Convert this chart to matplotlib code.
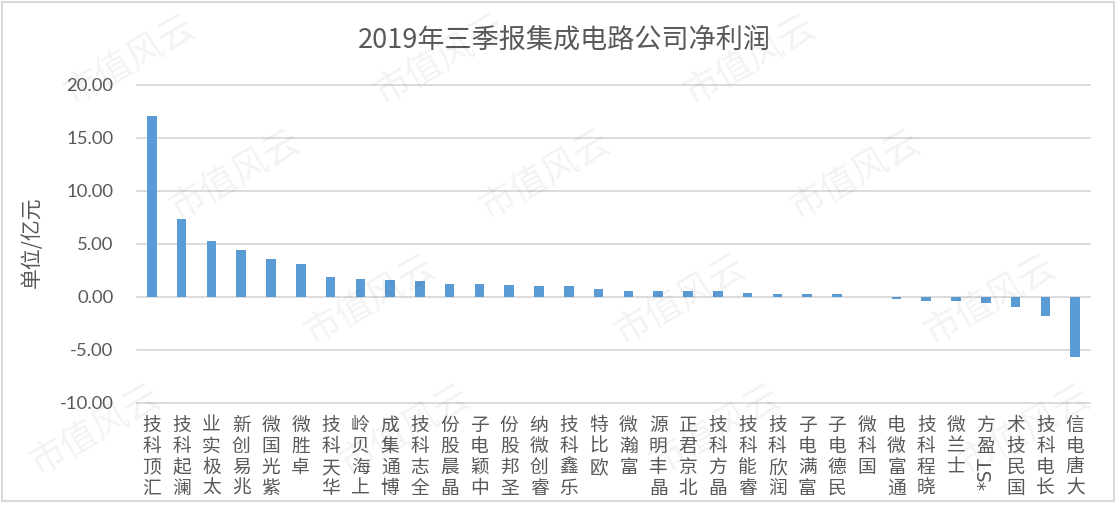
import re
import matplotlib
matplotlib.use("Agg")
import matplotlib.pyplot as plt
from matplotlib.ticker import FuncFormatter
from matplotlib.transforms import offset_copy
from matplotlib.patches import Rectangle

plt.rcParams['font.family'] = ['Noto Sans CJK SC', 'DejaVu Sans']

companies = ['汇顶科技', '澜起科技', '太极实业', '兆易创新', '紫光国微', '卓胜微', '华天科技',
             '上海贝岭', '博通集成', '全志科技', '晶晨股份', '中颖电子', '圣邦股份', '睿创微纳',
             '乐鑫科技', '欧比特', '富瀚微', '晶丰明源', '北京君正', '晶方科技', '睿能科技',
             '润欣科技', '富满电子', '民德电子', '国科微', '通富微电', '晓程科技', '士兰微',
             '*ST盈方', '国民技术', '长电科技', '大唐电信']
profit = [17.10, 7.40, 5.28, 4.43, 3.58, 3.15, 1.92, 1.67, 1.58, 1.48, 1.26, 1.25, 1.15,
          0.99, 0.99, 0.71, 0.61, 0.61, 0.61, 0.52, 0.33, 0.25, 0.25, 0.25, 0.02, -0.20,
          -0.42, -0.42, -0.55, -0.96, -1.77, -5.68]
yticks = [-10, -5, 0, 5, 10, 15, 20]

title = '2019年三季报集成电路公司净利润'
ylabel = '单位/亿元'

grey = '#595959'
bar_color = '#5B9BD5'
grid_color = '#D9D9D9'

fig = plt.figure(figsize=(11.18, 5.05), dpi=100)
ax = fig.add_axes([0.1225, 0.202, 0.8525, 0.6297])

x = list(range(len(companies)))
ax.bar(x, profit, width=0.32, color=bar_color, zorder=3)

ax.set_xlim(-0.5, len(companies) - 0.5)
ax.set_ylim(-10, 20)
ax.set_yticks(yticks)
ax.yaxis.set_major_formatter(FuncFormatter(lambda v, p: f"{v:.2f}"))
for t in yticks:
    ax.axhline(t, color=grid_color, lw=1.3, zorder=1, clip_on=False)
for s in ax.spines.values():
    s.set_visible(False)
ax.tick_params(axis='y', length=0, pad=17, labelcolor=grey)
ax.tick_params(axis='x', length=0, labelbottom=False)
for lab in ax.get_yticklabels():
    lab.set_fontfamily('Lato')
    lab.set_fontsize(13.3)

# stacked vertical category labels (Excel style, read bottom to top)
xtrans = ax.get_xaxis_transform()
for i, name in enumerate(companies):
    tokens = re.findall(r'[\x00-\x7f]+|.', name)[::-1]
    off = 12
    for tok in tokens:
        tr = offset_copy(xtrans, fig=fig, x=0, y=-off, units='dots')
        if tok.isascii():
            ax.text(i, 0, tok, transform=tr, rotation=90, ha='center', va='top',
                    fontsize=13.5, color=grey, family=['DejaVu Sans'], clip_on=False)
        else:
            ax.text(i, 0, tok, transform=tr, ha='center', va='top',
                    fontsize=13.5, color=grey, clip_on=False)
        off += 21

fig.text(564 / 1118, 1 - 40 / 505, title, ha='center', va='center', fontsize=19.5, color=grey)
fig.text(32 / 1118, 1 - 242 / 505, ylabel, ha='center', va='center', rotation=90,
         fontsize=15, color=grey)

# watermark (only the copies that fit inside the picture)
for row, yy in enumerate([60, 175, 300, 430]):
    shift = [130, 235, 60, 95][row]
    for k in range(5):
        xx = shift + k * 310
        if xx < 70 or xx > 1050:
            continue
        fig.text(xx / 1118, 1 - yy / 505, '市值风云', ha='center', va='center', rotation=30,
                 fontsize=26, color='#000000', alpha=0.05, zorder=10)

# chart border
fig.patches.append(Rectangle((0.002, 0.008), 0.994, 0.988, transform=fig.transFigure,
                             fill=False, edgecolor=grid_color, lw=1.5))

fig.savefig('out.png', dpi=100)
